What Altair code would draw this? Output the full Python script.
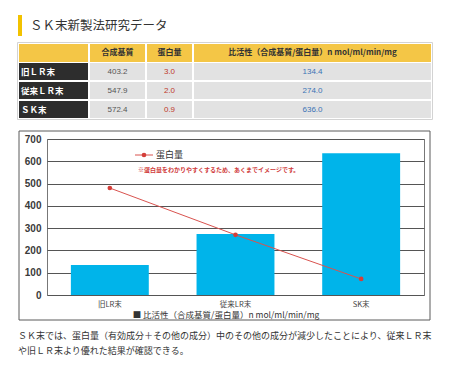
import altair as alt
import pandas as pd

# ---------------- data ----------------
categories = ["旧LR末", "従来LR末", "SK末"]
table_rows = ["旧ＬＲ末", "従来ＬＲ末", "ＳＫ末"]
substrate = [403.2, 547.9, 572.4]
protein = [3.0, 2.0, 0.9]
activity = [134.4, 274.0, 636.0]
protein_image = [480, 270, 72]
y_ticks = [0, 100, 200, 300, 400, 500, 600, 700]
header_labels = ["合成基質", "蛋白量", "比活性（合成基質/蛋白量）n mol/ml/min/mg"]
title_text = "ＳＫ末新製法研究データ"
line_legend = "蛋白量"
note_text = "※蛋白量をわかりやすくするため、あくまでイメージです。"
bar_legend = "■ 比活性（合成基質/蛋白量）n mol/ml/min/mg"
footer_lines = [
    "ＳＫ末では、蛋白量（有効成分＋その他の成分）中のその他の成分が減少したことにより、従来ＬＲ末",
    "や旧ＬＲ末より優れた結果が確認できる。",
]

JP = "Noto Sans CJK JP"

main_df = pd.DataFrame({"cat": categories, "activity": activity, "protein_image": protein_image})
table_df = pd.DataFrame({"row": table_rows, "substrate": substrate, "protein": protein, "activity": activity})


def box(x0, x1, y0, y1, **kw):
    return alt.Chart(pd.DataFrame({"k": [0]})).mark_rect(**kw).encode(
        x=alt.value(x0), x2=alt.value(x1), y=alt.value(y0), y2=alt.value(y1))


def label(text, x, y, **kw):
    return alt.Chart(pd.DataFrame({"label": [text]})).mark_text(**kw).encode(
        x=alt.value(x), y=alt.value(y), text="label:N")


# ---------------- table ----------------
row_scale = alt.Scale(domain=table_rows, range=[-77, -20], paddingInner=0.1, paddingOuter=0.05)
row_y = alt.Y("row:N", sort=table_rows, scale=row_scale, axis=None)
row_yc = alt.Y("row:N", sort=table_rows, scale=row_scale, axis=None, bandPosition=0.5)

cols = [(-28, 41), (43, 98), (100, 145), (147, 384)]
HEAD = "#F4C646"
layers = []
for (x0, x1) in cols:
    layers.append(box(x0, x1, -95, -77, color=HEAD))
for i, (x0, x1) in enumerate(cols):
    layers.append(alt.Chart(table_df).mark_rect(color="#2D2D2D" if i == 0 else "#E2E2E2").encode(
        x=alt.value(x0), x2=alt.value(x1), y=row_y))
layers.append(box(-29.5, 385.5, -96.5, -19.5, fill="white", fillOpacity=0, stroke="#D3D3D3", strokeWidth=1))

centers = [(c[0] + c[1]) / 2 for c in cols[1:]]
for text, cx in zip(header_labels, centers):
    layers.append(label(text, cx, -86, font=JP, fontSize=8, fontWeight="bold", color="#333", align="center", baseline="middle"))

layers.append(alt.Chart(table_df).mark_text(font=JP, fontSize=8.5, fontWeight="bold", color="white", align="left", baseline="middle").encode(
    x=alt.value(-26), y=row_yc, text="row:N"))
for field, cx, colr in zip(["substrate", "protein", "activity"], centers, ["#555555", "#C0392B", "#3B72B5"]):
    layers.append(alt.Chart(table_df).mark_text(font="Liberation Sans", fontSize=8, color=colr, align="center", baseline="middle").encode(
        x=alt.value(cx), y=row_yc, text=alt.Text(f"{field}:Q", format=".1f")))

# ---------------- title ----------------
layers.append(box(-29, -25, -124, -103, color="#F2C200"))
layers.append(label(title_text, -17, -113, font=JP, fontSize=12.5, color="#333", align="left", baseline="middle"))

# ---------------- chart box ----------------
layers.append(box(-28, 383, -8, 181, fill="white", fillOpacity=0, stroke="#5A5A5A", strokeWidth=1))

xaxis = alt.Axis(title=None, labelAngle=0, ticks=False, domain=False, labelFont=JP,
                 labelFontSize=7.5, labelColor="#444", labelPadding=5)
xscale = alt.Scale(paddingInner=0.38, paddingOuter=0.19)
yaxis = alt.Axis(title=None, values=y_ticks, grid=True, gridColor="#555", gridWidth=1.2,
                 ticks=False, domain=False, labelFont="Liberation Sans", labelFontSize=10,
                 labelFontWeight="bold", labelOverlap=False,
                 labelColor="#3A3A3A", labelPadding=6)
yscale = alt.Scale(domain=[0, 700], nice=False, zero=True)


def X():
    return alt.X("cat:N", sort=categories, scale=xscale, axis=xaxis)


def Y(field):
    return alt.Y(f"{field}:Q", scale=yscale, axis=yaxis)


bars = alt.Chart(main_df).mark_bar(color="#00B4EA").encode(x=X(), y=Y("activity"))
line = alt.Chart(main_df).mark_line(color="#D9534F", strokeWidth=1).encode(x=X(), y=Y("protein_image"))
pts = alt.Chart(main_df).mark_point(filled=True, color="#D43F3A", size=22, opacity=1).encode(
    x=X(), y=Y("protein_image"))
main = alt.layer(bars, line, pts)

# ---------------- in-chart legends ----------------
legend_df = pd.DataFrame({"k": [0]})
leg_rule = alt.Chart(legend_df).mark_rule(color="#D9534F", strokeWidth=1).encode(
    x=alt.value(88), x2=alt.value(106), y=alt.value(16))
leg_pt = alt.Chart(legend_df).mark_point(filled=True, color="#D43F3A", size=22, opacity=1).encode(
    x=alt.value(97), y=alt.value(16))
leg_txt = label(line_legend, 109, 16, font=JP, fontSize=9, color="#333", align="left", baseline="middle")
note = label(note_text, 91, 31, font=JP, fontSize=6, fontWeight="bold", color="#D03A3A", align="left", baseline="middle")
bar_leg = label(bar_legend, 179, 176, font=JP, fontSize=8.5, color="#333", align="center", baseline="middle")

foot = [label(t, -29, y, font=JP, fontSize=9, color="#333", align="left", baseline="middle")
        for t, y in zip(footer_lines, [197, 212])]

chart = alt.layer(*layers, main, leg_rule, leg_pt, leg_txt, note, bar_leg, *foot).resolve_scale(
    x="independent", y="independent"
).properties(
    width=377, height=156,
    padding={"left": 39, "top": 131, "right": 18, "bottom": 65},
    autosize="none",
).configure_view(stroke="#777", strokeWidth=1)

chart.save("out.html", embed_options={"renderer": "svg", "actions": False})
